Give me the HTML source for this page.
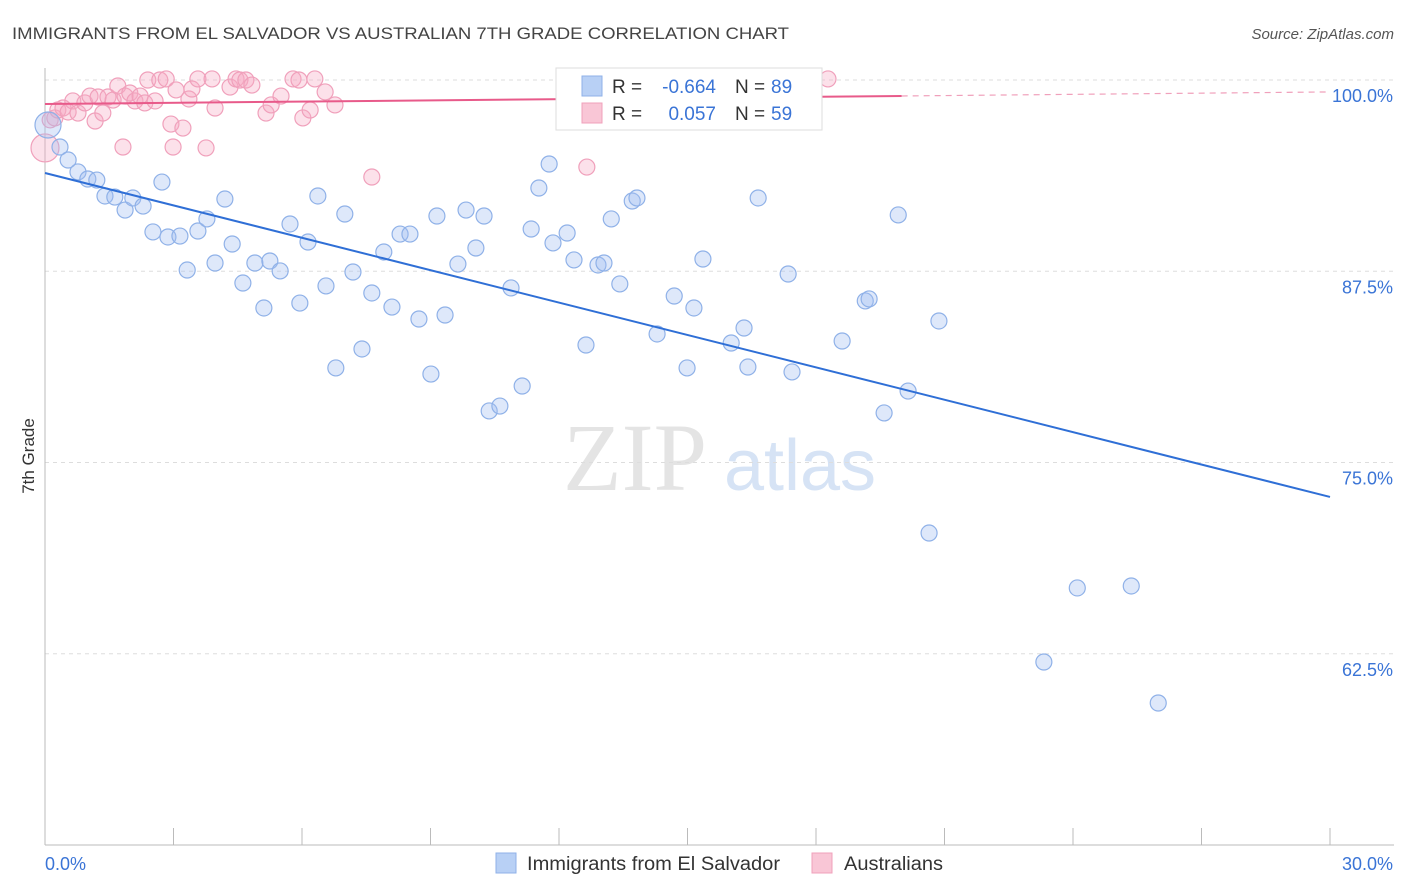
<!DOCTYPE html>
<html><head><meta charset="utf-8"><style>
body{margin:0;background:#fff;font-family:"Liberation Sans",sans-serif}
svg{display:block}
</style></head><body>
<svg id="chart" width="1406" height="892">
<text x="12" y="39" font-size="17" fill="#444" textLength="777" lengthAdjust="spacingAndGlyphs">IMMIGRANTS FROM EL SALVADOR VS AUSTRALIAN 7TH GRADE CORRELATION CHART</text>
<text x="1394" y="39" font-size="15" fill="#555" text-anchor="end" font-style="italic">Source: ZipAtlas.com</text>
<text x="34" y="456" font-size="17" fill="#333" transform="rotate(-90 34 456)" text-anchor="middle">7th Grade</text>
<g><text x="635" y="490" font-size="96" fill="#e4e4e4" font-family="Liberation Serif,serif" text-anchor="middle">ZIP</text><text x="800" y="490" font-size="72" fill="#d6e3f5" text-anchor="middle">atlas</text></g>
<g id="grid"></g><g id="axes"></g><g id="marks"></g><g id="trends"></g>
<g>
<rect x="556" y="68" width="266" height="62" fill="#fff" stroke="#ddd"/>
<rect x="582" y="76" width="20" height="20" fill="#b8d0f5" stroke="#8fb1e8"/>
<text x="612" y="93" font-size="19" fill="#333">R =</text>
<text x="716" y="93" font-size="19" fill="#3a74d6" text-anchor="end">-0.664</text>
<text x="735" y="93" font-size="19" fill="#333">N =</text>
<text x="771" y="93" font-size="19" fill="#3a74d6">89</text>
<rect x="582" y="103" width="20" height="20" fill="#f9c6d6" stroke="#f0a0bb"/>
<text x="612" y="120" font-size="19" fill="#333">R =</text>
<text x="716" y="120" font-size="19" fill="#3a74d6" text-anchor="end">0.057</text>
<text x="735" y="120" font-size="19" fill="#333">N =</text>
<text x="771" y="120" font-size="19" fill="#3a74d6">59</text>
</g>
<g>
<rect x="496" y="853" width="20" height="20" fill="#b8d0f5" stroke="#8fb1e8"/>
<text x="527" y="870" font-size="19" fill="#333" textLength="253" lengthAdjust="spacingAndGlyphs">Immigrants from El Salvador</text>
<rect x="812" y="853" width="20" height="20" fill="#f9c6d6" stroke="#f0a0bb"/>
<text x="844" y="870" font-size="19" fill="#333" textLength="99" lengthAdjust="spacingAndGlyphs">Australians</text>
</g>
</svg>
<script>
const yTicks=[100,87.5,75,62.5];
const yTickLabels=["100.0%","87.5%","75.0%","62.5%"];
const blueX=[0.07,0.35,0.54,0.77,1.00,1.21,1.40,1.63,1.87,2.05,2.29,2.52,2.73,2.87,3.15,3.32,3.57,3.78,3.97,4.20,4.37,4.62,4.90,5.11,5.25,5.49,5.72,5.95,6.14,6.37,6.56,6.79,7.00,7.19,7.40,7.63,7.91,8.10,8.29,8.52,8.73,9.01,9.15,9.34,9.64,9.83,10.06,10.25,10.37,10.62,10.88,11.14,11.35,11.53,11.77,11.86,12.19,12.35,12.63,12.91,13.05,13.22,13.42,13.71,13.82,14.29,14.69,14.99,15.15,15.36,15.74,16.02,16.32,16.41,16.65,17.35,17.44,18.61,19.15,19.24,19.59,19.92,20.15,20.87,20.64,24.10,25.36,23.32,25.99];
const blueY=[97.06,95.62,94.77,93.99,93.53,93.46,92.42,92.35,91.50,92.29,91.76,90.07,93.33,89.74,89.80,87.58,90.13,90.92,88.04,92.22,89.28,86.73,88.04,85.10,88.17,87.52,90.59,85.42,89.41,92.42,86.54,81.18,91.24,87.45,82.42,86.08,88.76,85.16,89.93,89.93,84.38,80.78,91.11,84.64,87.97,91.50,89.02,91.11,78.37,78.69,86.41,80.00,90.26,92.94,94.51,89.35,90.00,88.24,82.68,87.91,88.04,90.92,86.67,92.09,92.29,83.40,85.88,81.18,85.10,88.30,98.30,82.81,83.79,81.24,92.29,87.32,80.92,82.94,85.56,85.69,78.24,91.18,79.67,84.25,70.39,66.80,66.93,61.96,59.28];
const pinkX=[0,0.12,0.23,0.30,0.42,0.54,0.65,0.77,0.93,1.05,1.17,1.24,1.35,1.47,1.59,1.70,1.82,1.87,1.98,2.10,2.22,2.33,2.40,2.57,2.68,2.83,2.94,2.99,3.06,3.22,3.36,3.43,3.57,3.76,3.90,3.97,4.32,4.46,4.55,4.69,4.83,5.16,5.28,5.51,5.79,5.93,6.02,6.19,6.30,6.54,6.77,7.63,12.33,12.65,18.28];
const pinkY=[95.56,97.39,97.52,98.04,98.17,97.91,98.63,97.84,98.50,98.95,97.32,98.89,97.84,98.89,98.69,99.61,95.62,98.95,99.15,98.63,98.95,98.50,100,98.63,100,100.07,97.12,95.62,99.35,96.86,98.76,99.41,100.07,95.56,100.07,98.17,99.54,100.07,100,100,99.67,97.84,98.37,98.95,100.07,100,97.52,98.04,100.07,99.22,98.37,93.66,100.07,94.31,100.07];
const blueTrend=[93.92,72.75];
const pinkTrend=[98.43,99.22];
const NS="http://www.w3.org/2000/svg";
const X=v=>45+v/30*1285, Y=v=>80+(100-v)*15.3;
function mk(t,a,p){const e=document.createElementNS(NS,t);for(const k in a)e.setAttribute(k,a[k]);p.appendChild(e);return e;}
const grid=document.getElementById('grid'),axes=document.getElementById('axes'),marks=document.getElementById('marks'),trends=document.getElementById('trends');
yTicks.forEach((t,i)=>{
 const l=mk('line',{x1:45,x2:1394,y1:Y(t),y2:Y(t),stroke:'#ddd','stroke-dasharray':'4,4'},grid);
 
 
 const tx=mk('text',{x:1393,y:Y(t)+22,'font-size':18,fill:'#3a74d6','text-anchor':'end'},axes);
 tx.textContent=yTickLabels[i];
 
 
});
const ax=mk('line',{x1:45,x2:45,y1:68,y2:845,stroke:'#bbb'},axes);


const bx=mk('line',{x1:45,x2:1394,y1:845,y2:845,stroke:'#bbb'},axes);


for(let i=0;i<=10;i++){const t=mk('line',{x1:X(i*3),x2:X(i*3),y1:828,y2:845,stroke:'#bbb'},axes);
 
 }
const x0=mk('text',{x:45,y:870,'font-size':18,fill:'#3a74d6'},axes);x0.textContent='0.0%';


const x1=mk('text',{x:1393,y:870,'font-size':18,fill:'#3a74d6','text-anchor':'end'},axes);x1.textContent='30.0%';


pinkX.forEach((x,i)=>{const c=mk('circle',{cx:X(x),cy:Y(pinkY[i]),r:i==0?14:8,fill:'rgba(245,170,195,0.35)',stroke:'#f0a0bb','stroke-width':1.2},marks);
 
 });
blueX.forEach((x,i)=>{const c=mk('circle',{cx:X(x),cy:Y(blueY[i]),r:i==0?13:8,fill:'rgba(160,190,240,0.35)',stroke:'#8fb1e8','stroke-width':1.2},marks);
 
 });
const bl=mk('line',{x1:X(0),y1:Y(blueTrend[0]),x2:X(30),y2:Y(blueTrend[1]),stroke:'#2f6fd6','stroke-width':2},trends);


const pm=pinkTrend[0]+(pinkTrend[1]-pinkTrend[0])*20/30;
const pl=mk('line',{x1:X(0),y1:Y(pinkTrend[0]),x2:X(20),y2:Y(pm),stroke:'#e85a8a','stroke-width':2},trends);


const pd=mk('line',{x1:X(20),y1:Y(pm),x2:X(30),y2:Y(pinkTrend[1]),stroke:'#f0a0bb','stroke-width':1.2,'stroke-dasharray':'6,5'},trends);


</script>
</body></html>
